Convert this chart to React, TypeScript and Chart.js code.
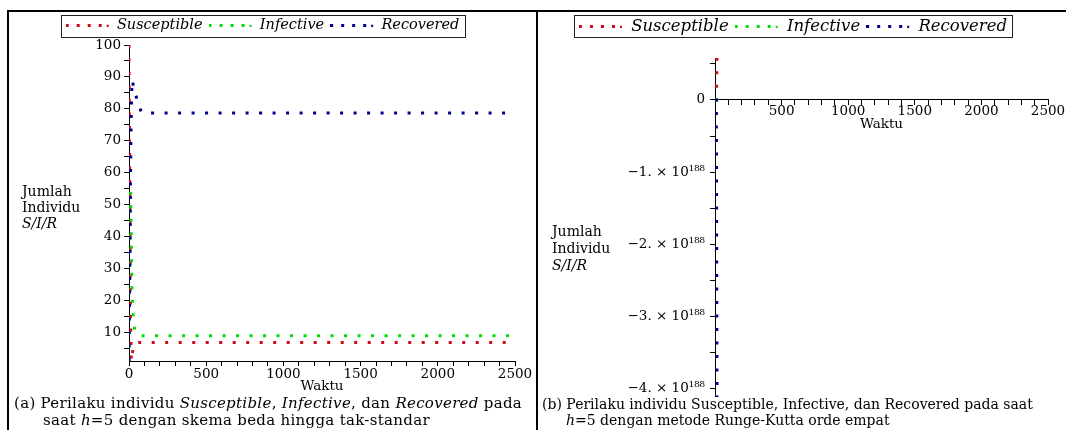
import React, { useEffect, useRef } from "react";
import { Chart, registerables } from "chart.js";

Chart.register(...registerables);

// ---------- shared ----------
const seriesNames = ["Susceptible", "Infective", "Recovered"];
const seriesColors = ["#cc0a1e", "#00dd00", "#00008c"];

// ---------- panel (a): non-standard finite difference, h = 5 ----------
const timeA = [0, 5, 10, 15, 20, 30, 40, 60, 80, 120, 2500];
const susceptibleA = [100, 55, 14, 1, 3, 5.5, 6.6, 6.8, 6.8, 6.8, 6.8];
const infectiveA = [1, 30, 55, 38, 22, 13, 9.8, 9.1, 8.9, 8.9, 8.9];
const recoveredA = [1, 30, 60, 80, 89, 87, 85, 81.5, 79, 78.7, 78.7];
const xTickValues = [0, 100, 200, 300, 400, 500, 600, 700, 800, 900, 1000, 1100, 1200, 1300, 1400, 1500, 1600, 1700, 1800, 1900, 2000, 2100, 2200, 2300, 2400, 2500];
const xTickLabelsA = ["0", "500", "1000", "1500", "2000", "2500"];
const xTickLabelsB = ["500", "1000", "1500", "2000", "2500"];
const yTickValuesA = [5, 10, 15, 20, 25, 30, 35, 40, 45, 50, 55, 60, 65, 70, 75, 80, 85, 90, 95, 100];
const yTickLabelsA = ["10", "20", "30", "40", "50", "60", "70", "80", "90", "100"];

// ---------- panel (b): Runge-Kutta 4th order, h = 5 (blows up) ----------
const timeB = [0, 5, 10, 15];
const susceptibleB = [100, 400, -2e4, 5.8e187];
const infectiveB = [1, 30, 5e3, -1e187];
const recoveredB = [1, 80, 1e4, -4.11e188];
const yScaleB = 1e188;
const yTickUnitsB = [-4, -3.5, -3, -2.5, -2, -1.5, -1, -0.5, 0, 0.5];
const yTickLabelsB = ["−4. × 10¹⁸⁸", "−3. × 10¹⁸⁸", "−2. × 10¹⁸⁸", "−1. × 10¹⁸⁸", "0"];

const SERIF = "'DejaVu Serif', 'Liberation Serif', serif";

function dotSample(color: string) {
  const c = document.createElement("canvas");
  c.width = 44;
  c.height = 3;
  const g = c.getContext("2d")!;
  g.fillStyle = color;
  [0, 11, 22, 33].forEach((x) => g.fillRect(x, 0, 3, 3));
  g.fillRect(41, 1, 2, 2);
  return c;
}

const legendFrame = {
  id: "legendFrame",
  afterDraw(chart: any) {
    const lg = chart.legend;
    if (!lg || !lg.legendHitBoxes || !lg.legendHitBoxes.length) return;
    const boxes = lg.legendHitBoxes;
    const left = Math.min(...boxes.map((b: any) => b.left)) - 5;
    const right = Math.max(...boxes.map((b: any) => b.left + b.width)) + 5;
    const top = Math.min(...boxes.map((b: any) => b.top)) - 3;
    const ctx = chart.ctx;
    ctx.save();
    ctx.strokeStyle = "#222";
    ctx.lineWidth = 1;
    ctx.strokeRect(Math.round(left) + 0.5, Math.round(top) + 0.5, Math.round(right - left), 22);
    ctx.restore();
  },
};

function legendHeight(h: number) {
  return {
    id: "legendHeight",
    beforeInit(chart: any) {
      const lg = chart.legend;
      if (!lg) return;
      const fit = lg.fit;
      lg.fit = function () {
        fit.call(lg);
        lg.height = h;
      };
    },
  };
}

function makeDatasets(t: number[], s: number[], i: number[], r: number[]) {
  const series = [s, i, r];
  return series.map((vals, k) => ({
    label: seriesNames[k],
    data: t.map((x, j) => ({ x, y: vals[j] })),
    borderColor: seriesColors[k],
    backgroundColor: seriesColors[k],
    borderWidth: 3,
    borderDash: [3, 10.5],
    borderCapStyle: "butt" as const,
    pointRadius: 0,
    fill: false,
    tension: 0,
    order: 3 - k,
  }));
}

function legendOpts(size: number) {
  return {
    display: true,
    position: "top" as const,
    labels: {
      usePointStyle: true,
      pointStyleWidth: 44,
      color: "#000",
      padding: 6,
      font: { family: SERIF, size, style: "italic" as const },
      sort: (a: any, b: any) => a.datasetIndex - b.datasetIndex,
      generateLabels: (chart: any) => {
        const items = (Chart.defaults.plugins.legend.labels as any).generateLabels(chart);
        items.forEach((it: any) => {
          it.pointStyle = dotSample(seriesColors[it.datasetIndex]);
        });
        return items;
      },
    },
  };
}

function optionsA(): any {
  const tickFont = { family: SERIF, size: 13.5 };
  return {
    responsive: false,
    animation: false,
    layout: { padding: { left: 0, right: 21, top: 0, bottom: 0 } },
    plugins: { legend: legendOpts(14.5), tooltip: { enabled: false } },
    scales: {
      x: {
        type: "linear",
        min: 0,
        max: 2500,
        afterBuildTicks: (ax: any) => {
          ax.ticks = xTickValues.map((v) => ({ value: v }));
        },
        afterFit: (s: any) => {
          s.height = 34;
        },
        grid: { drawOnChartArea: false, drawTicks: true, tickLength: 5, color: "#000" },
        border: { display: true, color: "#000", width: 1 },
        ticks: {
          autoSkip: false,
          maxRotation: 0,
          color: "#000",
          padding: 0,
          font: tickFont,
          callback: (v: number) => (xTickLabelsA.includes(String(v)) ? String(v) : ""),
        },
        title: { display: true, text: "Waktu", color: "#000", font: tickFont, padding: 0 },
      },
      y: {
        type: "linear",
        bounds: "data",
        afterBuildTicks: (ax: any) => {
          ax.ticks = yTickValuesA.filter((v) => v >= ax.min && v <= ax.max).map((v) => ({ value: v }));
        },
        afterFit: (s: any) => {
          s.width = 119;
        },
        grid: { drawOnChartArea: false, drawTicks: true, tickLength: 5, color: "#000" },
        border: { display: true, color: "#000", width: 1 },
        ticks: {
          autoSkip: false,
          color: "#000",
          padding: 3,
          font: tickFont,
          callback: (v: number) => (yTickLabelsA.includes(String(v)) ? String(v) : ""),
        },
      },
    },
  };
}

function labelB(v: number) {
  const u = Math.round((v / yScaleB) * 2) / 2;
  if (u === 0) return yTickLabelsB[4];
  if (Number.isInteger(u) && u < 0) return yTickLabelsB[4 + u] ?? "";
  return "";
}

function optionsB(): any {
  const tickFont = { family: SERIF, size: 13.5 };
  return {
    responsive: false,
    animation: false,
    layout: { padding: { left: 0, right: 18, top: 0, bottom: 0 } },
    plugins: { legend: legendOpts(16.5), tooltip: { enabled: false } },
    scales: {
      x: {
        type: "linear",
        min: 0,
        max: 2500,
        position: { y: 0 },
        afterBuildTicks: (ax: any) => {
          ax.ticks = xTickValues.map((v) => ({ value: v }));
        },
        afterFit: (s: any) => {
          s.height = s.height - 1;
        },
        grid: { drawOnChartArea: false, drawTicks: true, tickLength: 5, color: "#000" },
        border: { display: true, color: "#000", width: 1 },
        ticks: {
          autoSkip: false,
          maxRotation: 0,
          color: "#000",
          padding: -2,
          font: tickFont,
          callback: (v: number) => (xTickLabelsB.includes(String(v)) ? String(v) : ""),
        },
        title: { display: true, text: "Waktu", color: "#000", font: tickFont, padding: 0 },
      },
      y: {
        type: "linear",
        bounds: "data",
        afterBuildTicks: (ax: any) => {
          ax.ticks = yTickUnitsB
            .map((u) => u * yScaleB)
            .filter((v) => v >= ax.min && v <= ax.max)
            .map((v) => ({ value: v }));
        },
        afterFit: (s: any) => {
          s.width = 177;
        },
        grid: { drawOnChartArea: false, drawTicks: true, tickLength: 5, color: "#000" },
        border: { display: true, color: "#000", width: 1 },
        ticks: {
          autoSkip: false,
          color: "#000",
          padding: 5,
          font: tickFont,
          callback: (v: number) => labelB(v),
        },
      },
    },
  };
}

function Panel(props: { datasets: any[]; options: any; legendH: number; style: React.CSSProperties; width: number; height: number }) {
  const ref = useRef<HTMLCanvasElement | null>(null);
  useEffect(() => {
    if (!ref.current) return;
    const chart = new Chart(ref.current, {
      type: "line",
      data: { datasets: props.datasets },
      options: props.options,
      plugins: [legendHeight(props.legendH), legendFrame],
    });
    return () => chart.destroy();
  }, []);
  return <canvas ref={ref} width={props.width} height={props.height} style={{ position: "absolute", ...props.style }} />;
}

const textStyle: React.CSSProperties = {
  position: "absolute",
  fontFamily: SERIF,
  color: "#000",
  whiteSpace: "nowrap",
};

export default function App() {
  return (
    <div style={{ position: "fixed", left: 0, top: 0, width: 1066, height: 430, background: "#fff", overflow: "hidden" }}>
      {/* frame lines */}
      <div style={{ position: "absolute", left: 7, top: 10, width: 1059, height: 2, background: "#000" }} />
      <div style={{ position: "absolute", left: 7, top: 10, width: 2, height: 420, background: "#000" }} />
      <div style={{ position: "absolute", left: 536, top: 10, width: 2, height: 420, background: "#000" }} />

      <Panel
        datasets={makeDatasets(timeA, susceptibleA, infectiveA, recoveredA)}
        options={optionsA()}
        legendH={33}
        width={526}
        height={383}
        style={{ left: 10, top: 12 }}
      />
      <Panel
        datasets={makeDatasets(timeB, susceptibleB, infectiveB, recoveredB)}
        options={optionsB()}
        legendH={46}
        width={528}
        height={398}
        style={{ left: 538, top: 12 }}
      />

      {/* y-axis titles */}
      <div style={{ ...textStyle, left: 22, top: 183, fontSize: 14, lineHeight: "16px" }}>
        Jumlah
        <br />
        Individu
        <br />
        <i>S/I/R</i>
      </div>
      <div style={{ ...textStyle, left: 552, top: 223, fontSize: 14, lineHeight: "17px" }}>
        Jumlah
        <br />
        Individu
        <br />
        <i>S/I/R</i>
      </div>

      {/* captions */}
      <div style={{ ...textStyle, left: 14, top: 395, fontSize: 15, lineHeight: "17px", letterSpacing: "0.3px" }}>
        (a) Perilaku individu <i>Susceptible</i>, <i>Infective</i>, dan <i>Recovered</i> pada
        <br />
        <span style={{ paddingLeft: 29 }}>
          saat <i>h</i>=5 dengan skema beda hingga tak-standar
        </span>
      </div>
      <div style={{ ...textStyle, left: 542, top: 396, fontSize: 14, lineHeight: "16px" }}>
        (b) Perilaku individu Susceptible, Infective, dan Recovered pada saat
        <br />
        <span style={{ paddingLeft: 24 }}>
          <i>h</i>=5 dengan metode Runge-Kutta orde empat
        </span>
      </div>
    </div>
  );
}
